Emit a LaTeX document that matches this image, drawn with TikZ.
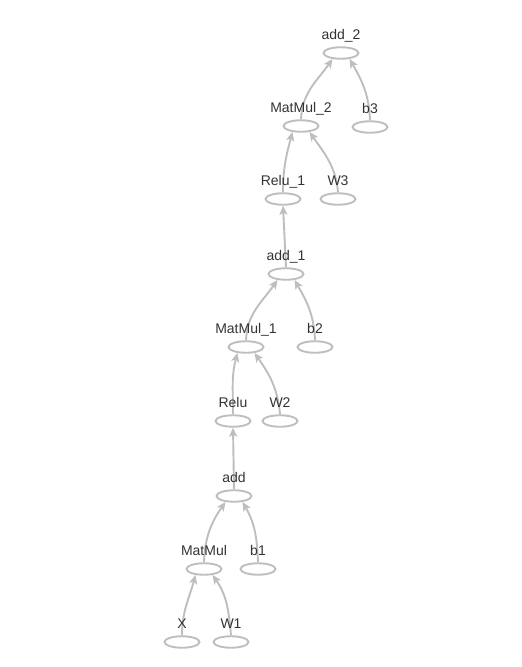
\documentclass[tikz,border=0pt]{standalone}
\usepackage{fontspec}
\setmainfont{Liberation Sans}
\usetikzlibrary{arrows.meta,shapes.geometric,backgrounds}

\definecolor{edgegray}{RGB}{190,190,190}
\definecolor{textgray}{RGB}{51,51,51}

\begin{document}
\begin{tikzpicture}[
    x=1pt, y=-1pt,
    lbl/.style={font=\fontsize{14}{15}\selectfont, text=textgray, inner sep=0pt, text depth=0pt, label distance=7pt},
    op/.style={draw=edgegray, ellipse, line width=1.9pt, minimum width=35pt, minimum height=11.5pt, inner sep=0pt, label={[lbl]above:#1}},
    edge/.style={draw=edgegray, line width=1.9pt, -{Stealth[length=9pt,width=8pt,inset=2pt]}}
]
\useasboundingbox (0,0) rectangle (522,667);

\node[op=add\_2] (add2) at (341,53) {};
\node[op=MatMul\_2] (matmul2) at (301,126) {};
\node[op=b3] (b3) at (370,127) {};
\node[op=Relu\_1] (relu1) at (283,199) {};
\node[op=W3] (w3) at (338,199) {};
\node[op=add\_1] (add1) at (286,274) {};
\node[op=MatMul\_1] (matmul1) at (246,347) {};
\node[op=b2] (b2) at (315,347) {};
\node[op=Relu] (relu) at (233,421) {};
\node[op=W2] (w2) at (280,421) {};
\node[op=add] (add) at (234,496) {};
\node[op=MatMul] (matmul) at (204,569) {};
\node[op=b1] (b1) at (258,569) {};
\node[op=X] (x) at (182,642) {};
\node[op=W1] (w1) at (231,642) {};

% edges behind the labels
\begin{scope}[on background layer]
\draw[edge] (matmul2.north) to[out=88,in=-125] (add2.-145);
\draw[edge] (b3.north) to[out=92,in=-60] (add2.-35);
\draw[edge] (relu1.north) to[out=90,in=-105] (matmul2.-145);
\draw[edge] (w3.north) to[out=95,in=-55] (matmul2.-35);
\draw[edge] (add1.north) -- (relu1.south);
\draw[edge] (matmul1.north) to[out=88,in=-125] (add1.-145);
\draw[edge] (b2.north) to[out=92,in=-60] (add1.-35);
\draw[edge] (relu.north) to[out=90,in=-105] (matmul1.-145);
\draw[edge] (w2.north) to[out=95,in=-55] (matmul1.-35);
\draw[edge] (add.north) -- (relu.south);
\draw[edge] (matmul.north) to[out=88,in=-125] (add.-145);
\draw[edge] (b1.north) to[out=92,in=-60] (add.-35);
\draw[edge] (x.north) to[out=90,in=-105] (matmul.-145);
\draw[edge] (w1.north) to[out=95,in=-55] (matmul.-35);
\end{scope}
\end{tikzpicture}
\end{document}
